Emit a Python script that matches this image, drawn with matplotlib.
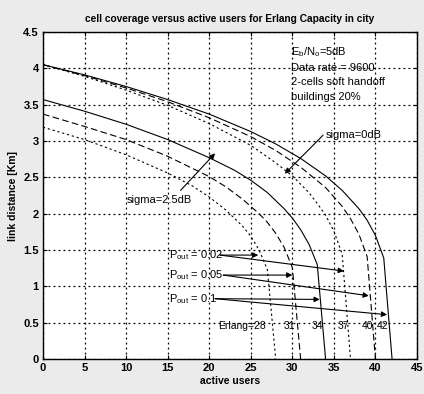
import matplotlib
matplotlib.use("Agg")
import matplotlib.pyplot as plt

plt.rcParams['font.family'] = ['Liberation Sans', 'DejaVu Sans']
plt.rcParams['mathtext.fontset'] = 'custom'
plt.rcParams['mathtext.rm'] = 'Liberation Sans'
plt.rcParams['mathtext.it'] = 'Liberation Sans:italic'

# ---- data ----
# sigma = 0 dB group
s0_p01_x = [0, 5, 10, 15, 20, 25, 28, 31, 34, 36, 38, 39, 40, 41, 42]
s0_p01_y = [4.05, 3.91, 3.75, 3.57, 3.37, 3.13, 2.96, 2.76, 2.52, 2.32, 2.07, 1.91, 1.70, 1.39, 0.0]
s0_p005_x = [0, 5, 10, 15, 20, 25, 28, 31, 34, 36, 37, 38, 39, 40]
s0_p005_y = [4.05, 3.90, 3.73, 3.54, 3.32, 3.06, 2.87, 2.64, 2.36, 2.10, 1.93, 1.72, 1.41, 0.0]
s0_p002_x = [0, 5, 10, 15, 20, 25, 28, 30, 32, 33, 34, 35, 36, 37]
s0_p002_y = [4.05, 3.89, 3.70, 3.49, 3.24, 2.94, 2.70, 2.52, 2.29, 2.14, 1.98, 1.76, 1.44, 0.0]
# sigma = 2.5 dB group
s25_p01_x = [0, 5, 10, 15, 20, 23, 25, 27, 29, 30, 31, 32, 33, 34]
s25_p01_y = [3.57, 3.41, 3.23, 3.02, 2.77, 2.60, 2.46, 2.29, 2.07, 1.94, 1.78, 1.58, 1.30, 0.0]
s25_p005_x = [0, 5, 10, 15, 20, 22, 24, 26, 27, 28, 29, 30, 31]
s25_p005_y = [3.37, 3.20, 3.02, 2.79, 2.51, 2.37, 2.20, 2.00, 1.88, 1.73, 1.54, 1.26, 0.0]
s25_p002_x = [0, 5, 10, 15, 18, 20, 22, 24, 25, 26, 27, 28]
s25_p002_y = [3.19, 3.02, 2.81, 2.56, 2.38, 2.23, 2.05, 1.83, 1.69, 1.50, 1.23, 0.0]

xticks = [0, 5, 10, 15, 20, 25, 30, 35, 40, 45]
yticks = [0, 0.5, 1, 1.5, 2, 2.5, 3, 3.5, 4, 4.5]
ytick_labels = ['0', '0.5', '1', '1.5', '2', '2.5', '3', '3.5', '4', '4.5']

pout_labels = ['0.02', '0.05', '0.1']
pout_text_xy = [(15.2, 1.43), (15.2, 1.155), (15.2, 0.83)]
pout_start_x = [21.3, 21.7, 20.7]
pout_tips_lower = [(25.9, 1.43), (30.0, 1.155), (33.3, 0.82)]
pout_tips_upper = [(36.2, 1.21), (39.2, 0.87), (41.4, 0.61)]

erlang_labels = ['Erlang=28', '31', '34', '37', '40', '42']
erlang_x = [21.1, 29.0, 32.3, 35.4, 38.4, 40.1]
erlang_y = 0.45

info_lines = ['E$_\\mathrm{b}$/N$_\\mathrm{o}$=5dB', 'Data rate = 9600',
              '2-cells soft handoff', 'buildings 20%']
info_y = [4.23, 4.00, 3.81, 3.60]
info_x = 29.8

# ---- figure ----
fig = plt.figure(figsize=(4.24, 3.94), dpi=100)
fig.patch.set_facecolor('#ebebeb')
ax = fig.add_axes([0.1014, 0.0888, 0.8821, 0.83])
ax.set_facecolor('white')

lw = 0.8
dash = (0, (6, 3))
dot = (0, (2, 2.5))
ax.plot(s0_p01_x, s0_p01_y, color='k', lw=lw, linestyle='-')
ax.plot(s0_p005_x, s0_p005_y, color='k', lw=lw, linestyle=dash)
ax.plot(s0_p002_x, s0_p002_y, color='k', lw=lw, linestyle=dot)
ax.plot(s25_p01_x, s25_p01_y, color='k', lw=lw, linestyle='-')
ax.plot(s25_p005_x, s25_p005_y, color='k', lw=lw, linestyle=dash)
ax.plot(s25_p002_x, s25_p002_y, color='k', lw=lw, linestyle=dot)

ax.set_xlim(0, 45)
ax.set_ylim(0, 4.5)
ax.set_xticks(xticks)
ax.set_yticks(yticks)
ax.set_yticklabels(ytick_labels)
for lab in ax.get_xticklabels() + ax.get_yticklabels():
    lab.set_fontweight('bold')
    lab.set_fontsize(8)
ax.tick_params(direction='in', top=True, right=True, length=3, width=0.8, pad=3)
ax.grid(True, color='k', linestyle=(0, (1.5, 2.5)), linewidth=0.9)
for sp in ax.spines.values():
    sp.set_linewidth(1.0)

ax.set_title('cell coverage versus active users for Erlang Capacity in city',
             fontsize=7.3, fontweight='bold', pad=7)
ax.set_xlabel('active users', fontsize=7.5, fontweight='bold', labelpad=2)
ax.set_ylabel('link distance [Km]', fontsize=7.5, fontweight='bold', labelpad=4)

# info block
for t, y in zip(info_lines, info_y):
    ax.text(info_x, y, t, fontsize=8, va='center', ha='left')

# sigma annotations
ap = dict(arrowstyle='-|>', color='k', lw=0.8, mutation_scale=8, shrinkA=0, shrinkB=0)
ax.text(34.0, 3.08, 'sigma=0dB', fontsize=8, va='center', ha='left')
ax.annotate('', xy=(29.1, 2.55), xytext=(33.7, 3.08), arrowprops=ap)
ax.text(10.1, 2.19, 'sigma=2.5dB', fontsize=8, va='center', ha='left')
ax.annotate('', xy=(20.7, 2.83), xytext=(16.55, 2.32), arrowprops=ap)

# Pout annotations
for lab, (tx, ty), sx, tl, tu in zip(pout_labels, pout_text_xy, pout_start_x,
                                       pout_tips_lower, pout_tips_upper):
    ax.text(tx, ty, 'P$_\\mathrm{out}$ = ' + lab, fontsize=8, va='center', ha='left')
    ax.annotate('', xy=tl, xytext=(sx, ty), arrowprops=ap)
    ax.annotate('', xy=tu, xytext=(sx, ty), arrowprops=ap)

# Erlang labels
for lab, x in zip(erlang_labels, erlang_x):
    ax.text(x, erlang_y, lab, fontsize=7.5, va='center', ha='left')

fig.savefig('out.png', dpi=100, facecolor=fig.get_facecolor())
